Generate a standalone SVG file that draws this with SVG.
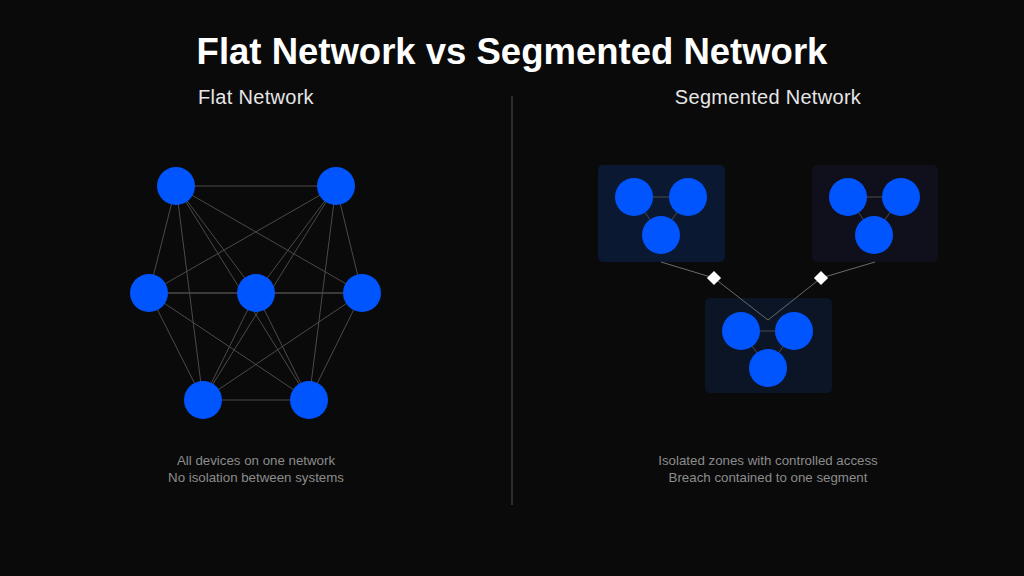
<svg xmlns="http://www.w3.org/2000/svg" width="1024" height="576" viewBox="0 0 1024 576">
<style>
.bg{fill:#0a0a0a}
.title{font-family:"Liberation Sans",Arial,sans-serif;font-weight:bold;font-size:36.5px;fill:#ffffff}
.sub{font-family:"Liberation Sans",Arial,sans-serif;font-size:20px;letter-spacing:0.3px;fill:#e6e6e6}
.cap{font-family:"Liberation Sans",Arial,sans-serif;font-size:13.3px;fill:#8c8c8c}
.node{fill:#0055ff}
.edge{stroke:#4d4a48;stroke-width:1;fill:none}
.link{stroke:#6a6a6a;stroke-width:1;fill:none}
.gate{fill:#ffffff}
</style>
<rect class="bg" x="0" y="0" width="1024" height="576"/>
<text class="title" x="512" y="64" text-anchor="middle">Flat Network vs Segmented Network</text>
<text class="sub" x="256" y="104" text-anchor="middle">Flat Network</text>
<text class="sub" x="768" y="104" text-anchor="middle">Segmented Network</text>
<line x1="512" y1="96" x2="512" y2="505" stroke="#2e2e2e" stroke-width="2"/>

<g id="zones">
<rect id="zone-a" x="598" y="165" width="127" height="97" rx="5" fill="#0a1832"/>
<rect id="zone-b" x="812" y="165" width="126" height="97" rx="5" fill="#0f101c"/>
<rect id="zone-c" x="705" y="298" width="127" height="95" rx="5" fill="#0b1526"/>
</g>

<g id="connectors">
<line class="edge" x1="176" y1="186" x2="336" y2="186"/>
<line class="edge" x1="176" y1="186" x2="149" y2="293"/>
<line class="edge" x1="176" y1="186" x2="256" y2="293"/>
<line class="edge" x1="176" y1="186" x2="362" y2="293"/>
<line class="edge" x1="176" y1="186" x2="203" y2="400"/>
<line class="edge" x1="176" y1="186" x2="309" y2="400"/>
<line class="edge" x1="336" y1="186" x2="149" y2="293"/>
<line class="edge" x1="336" y1="186" x2="256" y2="293"/>
<line class="edge" x1="336" y1="186" x2="362" y2="293"/>
<line class="edge" x1="336" y1="186" x2="203" y2="400"/>
<line class="edge" x1="336" y1="186" x2="309" y2="400"/>
<line class="edge" x1="149" y1="293" x2="256" y2="293"/>
<line class="edge" x1="149" y1="293" x2="362" y2="293"/>
<line class="edge" x1="149" y1="293" x2="203" y2="400"/>
<line class="edge" x1="149" y1="293" x2="309" y2="400"/>
<line class="edge" x1="256" y1="293" x2="362" y2="293"/>
<line class="edge" x1="256" y1="293" x2="203" y2="400"/>
<line class="edge" x1="256" y1="293" x2="309" y2="400"/>
<line class="edge" x1="362" y1="293" x2="203" y2="400"/>
<line class="edge" x1="362" y1="293" x2="309" y2="400"/>
<line class="edge" x1="203" y1="400" x2="309" y2="400"/>

<line class="edge" x1="634" y1="197" x2="688" y2="197"/>
<line class="edge" x1="634" y1="197" x2="661" y2="235"/>
<line class="edge" x1="688" y1="197" x2="661" y2="235"/>
<line class="edge" x1="848" y1="197" x2="901" y2="197"/>
<line class="edge" x1="848" y1="197" x2="874" y2="235"/>
<line class="edge" x1="901" y1="197" x2="874" y2="235"/>
<line class="edge" x1="741" y1="331" x2="794" y2="331"/>
<line class="edge" x1="741" y1="331" x2="768" y2="368"/>
<line class="edge" x1="794" y1="331" x2="768" y2="368"/>

<polyline class="link" points="661,262 714,278 768,320"/>
<polyline class="link" points="875,262 821,278 768,320"/>
<rect class="gate" x="709" y="273" width="10" height="10" transform="rotate(45 714 278)"/>
<rect class="gate" x="816" y="273" width="10" height="10" transform="rotate(45 821 278)"/>
</g>

<g id="flat-nodes">
<circle id="f1" class="node" cx="176" cy="186" r="19"/>
<circle id="f2" class="node" cx="336" cy="186" r="19"/>
<circle id="f3" class="node" cx="149" cy="293" r="19"/>
<circle id="f4" class="node" cx="256" cy="293" r="19"/>
<circle id="f5" class="node" cx="362" cy="293" r="19"/>
<circle id="f6" class="node" cx="203" cy="400" r="19"/>
<circle id="f7" class="node" cx="309" cy="400" r="19"/>
</g>

<g id="seg-nodes">
<circle id="a1" class="node" cx="634" cy="197" r="19"/>
<circle id="a2" class="node" cx="688" cy="197" r="19"/>
<circle id="a3" class="node" cx="661" cy="235" r="19"/>
<circle id="b1" class="node" cx="848" cy="197" r="19"/>
<circle id="b2" class="node" cx="901" cy="197" r="19"/>
<circle id="b3" class="node" cx="874" cy="235" r="19"/>
<circle id="c1" class="node" cx="741" cy="331" r="19"/>
<circle id="c2" class="node" cx="794" cy="331" r="19"/>
<circle id="c3" class="node" cx="768" cy="368" r="19"/>
</g>

<text class="cap" x="256" y="465" text-anchor="middle">All devices on one network</text>
<text class="cap" x="256" y="482" text-anchor="middle">No isolation between systems</text>
<text class="cap" x="768" y="465" text-anchor="middle">Isolated zones with controlled access</text>
<text class="cap" x="768" y="482" text-anchor="middle">Breach contained to one segment</text>
</svg>
